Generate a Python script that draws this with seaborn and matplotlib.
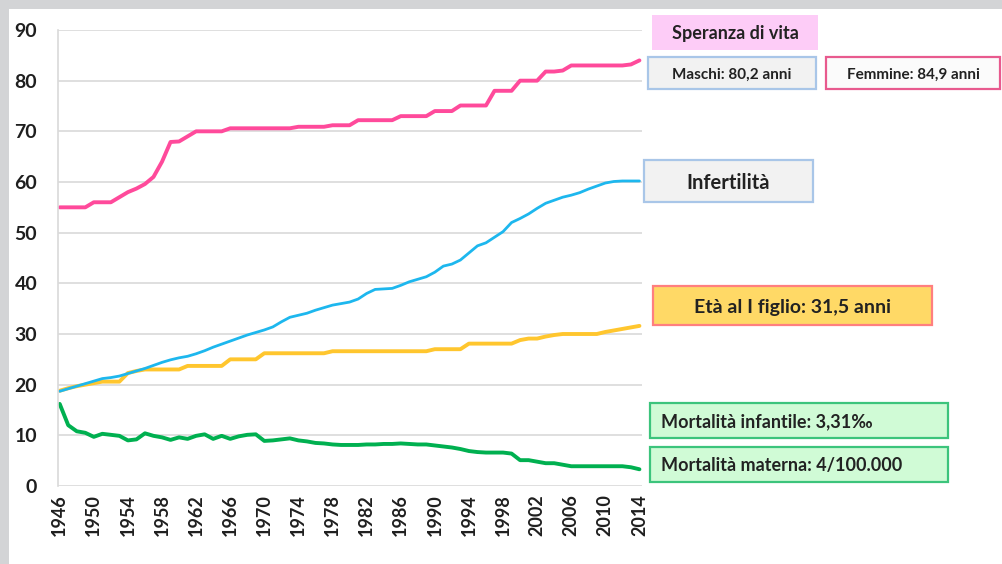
import matplotlib
matplotlib.use("Agg")
import matplotlib.pyplot as plt
from matplotlib.patches import Rectangle
import seaborn as sns
import pandas as pd

# data (one value per year)
years = list(range(1946, 2015))

speranza = [55, 55, 55, 55, 56, 56, 56, 57, 58, 58.7,
            59.6, 61, 64, 67.9, 68, 69, 70, 70, 70, 70,
            70.6, 70.6, 70.6, 70.6, 70.6, 70.6, 70.6, 70.6, 70.9, 70.9,
            70.9, 70.9, 71.2, 71.2, 71.2, 72.2, 72.2, 72.2, 72.2, 72.2,
            73, 73, 73, 73, 74, 74, 74, 75.1, 75.1, 75.1,
            75.1, 78, 78, 78, 80, 80, 80, 81.8, 81.8, 82,
            83, 83, 83, 83, 83, 83, 83, 83.2, 84]

infertilita = [18.7, 19.2, 19.7, 20.2, 20.7, 21.2, 21.4, 21.7, 22.2, 22.7,
               23.2, 23.8, 24.4, 24.9, 25.3, 25.6, 26.1, 26.7, 27.4, 28.0,
               28.6, 29.2, 29.8, 30.3, 30.8, 31.4, 32.4, 33.3, 33.7, 34.1,
               34.7, 35.2, 35.7, 36.0, 36.3, 36.9, 38.0, 38.8, 38.9, 39.0,
               39.6, 40.3, 40.8, 41.3, 42.2, 43.4, 43.8, 44.6, 46.0, 47.4,
               48.0, 49.1, 50.2, 52.0, 52.8, 53.7, 54.8, 55.8, 56.4, 57.0,
               57.4, 57.9, 58.6, 59.2, 59.8, 60.1, 60.2, 60.2, 60.2]

eta_figlio = [18.8, 19.3, 19.7, 20.0, 20.3, 20.6, 20.6, 20.6, 22.3, 22.7,
              23.0, 23.0, 23.0, 23.0, 23.0, 23.7, 23.7, 23.7, 23.7, 23.7,
              25.0, 25.0, 25.0, 25.0, 26.2, 26.2, 26.2, 26.2, 26.2, 26.2,
              26.2, 26.2, 26.6, 26.6, 26.6, 26.6, 26.6, 26.6, 26.6, 26.6,
              26.6, 26.6, 26.6, 26.6, 27.0, 27.0, 27.0, 27.0, 28.1, 28.1,
              28.1, 28.1, 28.1, 28.1, 28.8, 29.1, 29.1, 29.5, 29.8, 30.0,
              30.0, 30.0, 30.0, 30.0, 30.4, 30.7, 31.0, 31.3, 31.6]

mortalita = [16.2, 12.0, 10.8, 10.5, 9.7, 10.3, 10.1, 9.9, 9.0, 9.2,
             10.4, 9.9, 9.6, 9.1, 9.6, 9.3, 9.9, 10.2, 9.3, 9.9,
             9.3, 9.8, 10.1, 10.2, 8.9, 9.0, 9.2, 9.4, 9.0, 8.8,
             8.5, 8.4, 8.2, 8.1, 8.1, 8.1, 8.2, 8.2, 8.3, 8.3,
             8.4, 8.3, 8.2, 8.2, 8.0, 7.8, 7.6, 7.3, 6.9, 6.7,
             6.6, 6.6, 6.6, 6.4, 5.1, 5.1, 4.8, 4.5, 4.5, 4.2,
             3.9, 3.9, 3.9, 3.9, 3.9, 3.9, 3.9, 3.7, 3.3]

x_ticks = list(range(1946, 2015, 4))
y_ticks = list(range(0, 91, 10))

df = pd.DataFrame({"anno": years, "speranza": speranza, "infertilita": infertilita,
                   "eta": eta_figlio, "mortalita": mortalita})

sns.set_style("white")
plt.rcParams['font.family'] = ['Lato', 'DejaVu Sans']

W, H = 1003, 564
fig = plt.figure(figsize=(W / 100, H / 100), dpi=100, facecolor='#d3d4d6')
# white panel (grey strip only on top and left)
fig.patches.append(Rectangle((9 / W, 0), 1 - 9 / W, 1 - 9 / H, transform=fig.transFigure,
                             facecolor='white', edgecolor='none', zorder=-5))

ax = fig.add_axes([58 / W, 1 - 486 / H, 584 / W, 456 / H])
ax.set_facecolor('none')
ax.set_zorder(1)

sns.lineplot(data=df, x="anno", y="speranza", color='#ff4a9b', linewidth=2.8, ax=ax)
sns.lineplot(data=df, x="anno", y="eta", color='#ffc62e', linewidth=2.8, ax=ax)
sns.lineplot(data=df, x="anno", y="infertilita", color='#1db7ee', linewidth=2.0, ax=ax)
sns.lineplot(data=df, x="anno", y="mortalita", color='#00b050', linewidth=2.8, ax=ax)

ax.set_xlim(1945.8, 2014.3)
ax.set_ylim(0, 90)
ax.set_xticks(x_ticks)
ax.set_yticks(y_ticks)
ax.set_xticklabels([str(t) for t in x_ticks], rotation=90, fontsize=13,
                   fontweight='bold', color='#1f1f1f')
ax.set_yticklabels([str(t) for t in y_ticks], fontsize=14, fontweight='bold', color='#1f1f1f')
ax.tick_params(axis='y', length=0, pad=15)
ax.tick_params(axis='x', length=0, pad=6)
ax.set_xlabel('')
ax.set_ylabel('')
ax.grid(axis='y', color='#d9d9d9', linewidth=1.2)
ax.set_axisbelow(True)
for s in ['top', 'right', 'bottom']:
    ax.spines[s].set_visible(False)
ax.spines['left'].set_color('#d9d9d9')
ax.spines['left'].set_linewidth(1.2)


def box(x0, y0, x1, y1, text, face, edge, size, ha='center', tx=None):
    # coordinates in pixels from top-left
    fig.patches.append(Rectangle((x0 / W, 1 - y1 / H), (x1 - x0) / W, (y1 - y0) / H,
                                 transform=fig.transFigure, facecolor=face,
                                 edgecolor=edge, linewidth=1.6, zorder=2))
    if tx is None:
        tx = (x0 + x1) / 2
    fig.text(tx / W, 1 - (y0 + y1) / 2 / H, text, ha=ha, va='center_baseline',
             fontsize=size, fontweight='bold', color='#222222', zorder=3)


box(652, 15, 818, 50, "Speranza di vita", '#fdccf7', 'none', 13)
box(648, 57, 816, 89, "Maschi: 80,2 anni", '#f2f2f2', '#a9c6e8', 11)
box(826, 57, 1000, 89, "Femmine: 84,9 anni", '#fbfbfb', '#e85a8e', 11)
box(644, 160, 813, 202, "Infertilità", '#f2f2f2', '#a9c6e8', 14.5)
box(653, 286, 932, 325, "Età al I figlio: 31,5 anni", '#ffd966', '#ff7f7f', 14)
box(650, 403, 948, 438, "Mortalità infantile: 3,31‰", '#d0fbd6', '#3cc47c', 13, ha='left', tx=661)
box(650, 447, 948, 482, "Mortalità materna: 4/100.000", '#d0fbd6', '#3cc47c', 13, ha='left', tx=661)

fig.savefig("out.png", dpi=100, facecolor=fig.get_facecolor())
